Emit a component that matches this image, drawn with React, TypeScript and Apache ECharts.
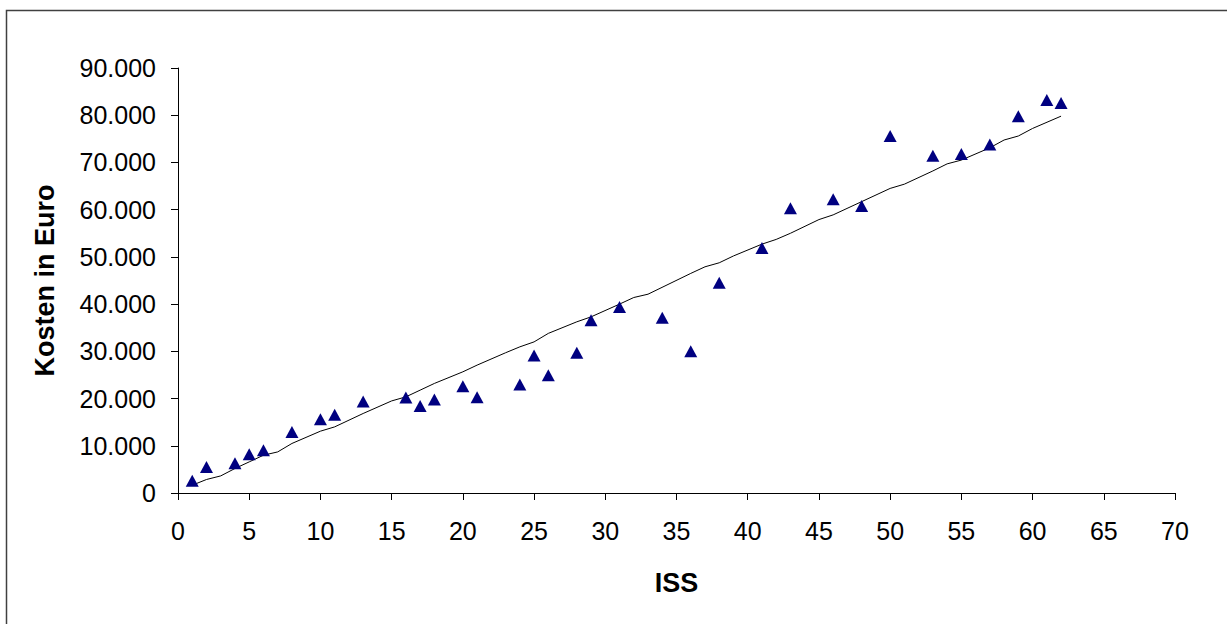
import React, { useEffect, useRef } from "react";
import * as echarts from "echarts";

const issValues = [1, 2, 4, 5, 6, 8, 10, 11, 13, 16, 17, 18, 20, 21, 24, 25, 26, 28, 29, 31, 34, 36, 38, 41, 43, 46, 48, 50, 53, 55, 57, 59, 61, 62];
const costValues = [2600, 5500, 6300, 8200, 9050, 12900, 15600, 16550, 19400, 20200, 18400, 19800, 22600, 20300, 23000, 29100, 24950, 29700, 36600, 39400, 37100, 30000, 44500, 51900, 60300, 62200, 60800, 75600, 71400, 71800, 73800, 79800, 83200, 82600];

const lineX = [1, 2, 3, 4, 5, 6, 7, 8, 10, 11, 13, 15, 16, 17, 18, 20, 21, 23, 24, 25, 26, 28, 29, 31, 32, 33, 36, 37, 38, 39, 41, 42, 43, 45, 46, 48, 50, 51, 53, 54, 55, 57, 58, 59, 60, 62];
const lineY = [1650, 2860, 3620, 5190, 6590, 8000, 8700, 10490, 13090, 14000, 16840, 19500, 20360, 21780, 23200, 25660, 27080, 29700, 30950, 32000, 33800, 36250, 37300, 40000, 41400, 42100, 46500, 47900, 48750, 50200, 52700, 53700, 55000, 57900, 58900, 61700, 64500, 65400, 68200, 69700, 70500, 73100, 74750, 75600, 77200, 79800];

const xTitle = "ISS";
const yTitle = "Kosten in Euro";

const fmt = (v: number) => {
  const s = Math.round(v).toString();
  return s.replace(/\B(?=(\d{3})+(?!\d))/g, ".");
};

export default function App() {
  const ref = useRef<HTMLDivElement>(null);
  useEffect(() => {
    document.body.style.margin = "0";
    const chart = echarts.init(ref.current!, undefined, { renderer: "svg" });
    const font = "Arial, 'Liberation Sans', sans-serif";
    chart.setOption({
      animation: false,
      backgroundColor: "#ffffff",
      textStyle: { fontFamily: font },
      graphic: [
        {
          type: "rect",
          shape: { x: 6.5, y: 10.5, width: 1240, height: 640 },
          style: { fill: "none", stroke: "#404040", lineWidth: 1.5 },
          silent: true,
        },
      ],
      grid: { left: 178, right: 52, top: 68, bottom: 131, containLabel: false },
      xAxis: {
        type: "value",
        min: 0,
        max: 70,
        interval: 5,
        name: xTitle,
        nameLocation: "middle",
        nameGap: 76,
        nameTextStyle: { fontSize: 27, fontWeight: "bold", color: "#000", fontFamily: font },
        axisLine: { lineStyle: { color: "#000", width: 1 } },
        axisTick: { show: true, inside: false, length: 7, lineStyle: { color: "#000" } },
        axisLabel: { fontSize: 25, color: "#000", margin: 25, fontFamily: font },
        splitLine: { show: false },
      },
      yAxis: {
        type: "value",
        min: 0,
        max: 90000,
        interval: 10000,
        name: yTitle,
        nameLocation: "middle",
        nameGap: 120,
        nameRotate: 90,
        nameTextStyle: { fontSize: 27, fontWeight: "bold", color: "#000", fontFamily: font },
        axisLine: { show: true, lineStyle: { color: "#000", width: 1 } },
        axisTick: { show: true, inside: false, length: 7, lineStyle: { color: "#000" } },
        axisLabel: { fontSize: 25, color: "#000", margin: 22, formatter: fmt, fontFamily: font },
        splitLine: { show: false },
      },
      series: [
        {
          type: "line",
          data: lineX.map((x, i) => [x, lineY[i]]),
          showSymbol: false,
          symbol: "none",
          lineStyle: { color: "#000", width: 1 },
          z: 2,
        },
        {
          type: "scatter",
          data: issValues.map((x, i) => [x, costValues[i]]),
          symbol: "triangle",
          symbolSize: [13, 12],
          itemStyle: { color: "#000080", opacity: 1 },
          z: 3,
        },
      ],
    });
    return () => chart.dispose();
  }, []);
  return <div ref={ref} style={{ width: 1227, height: 624 }} />;
}
